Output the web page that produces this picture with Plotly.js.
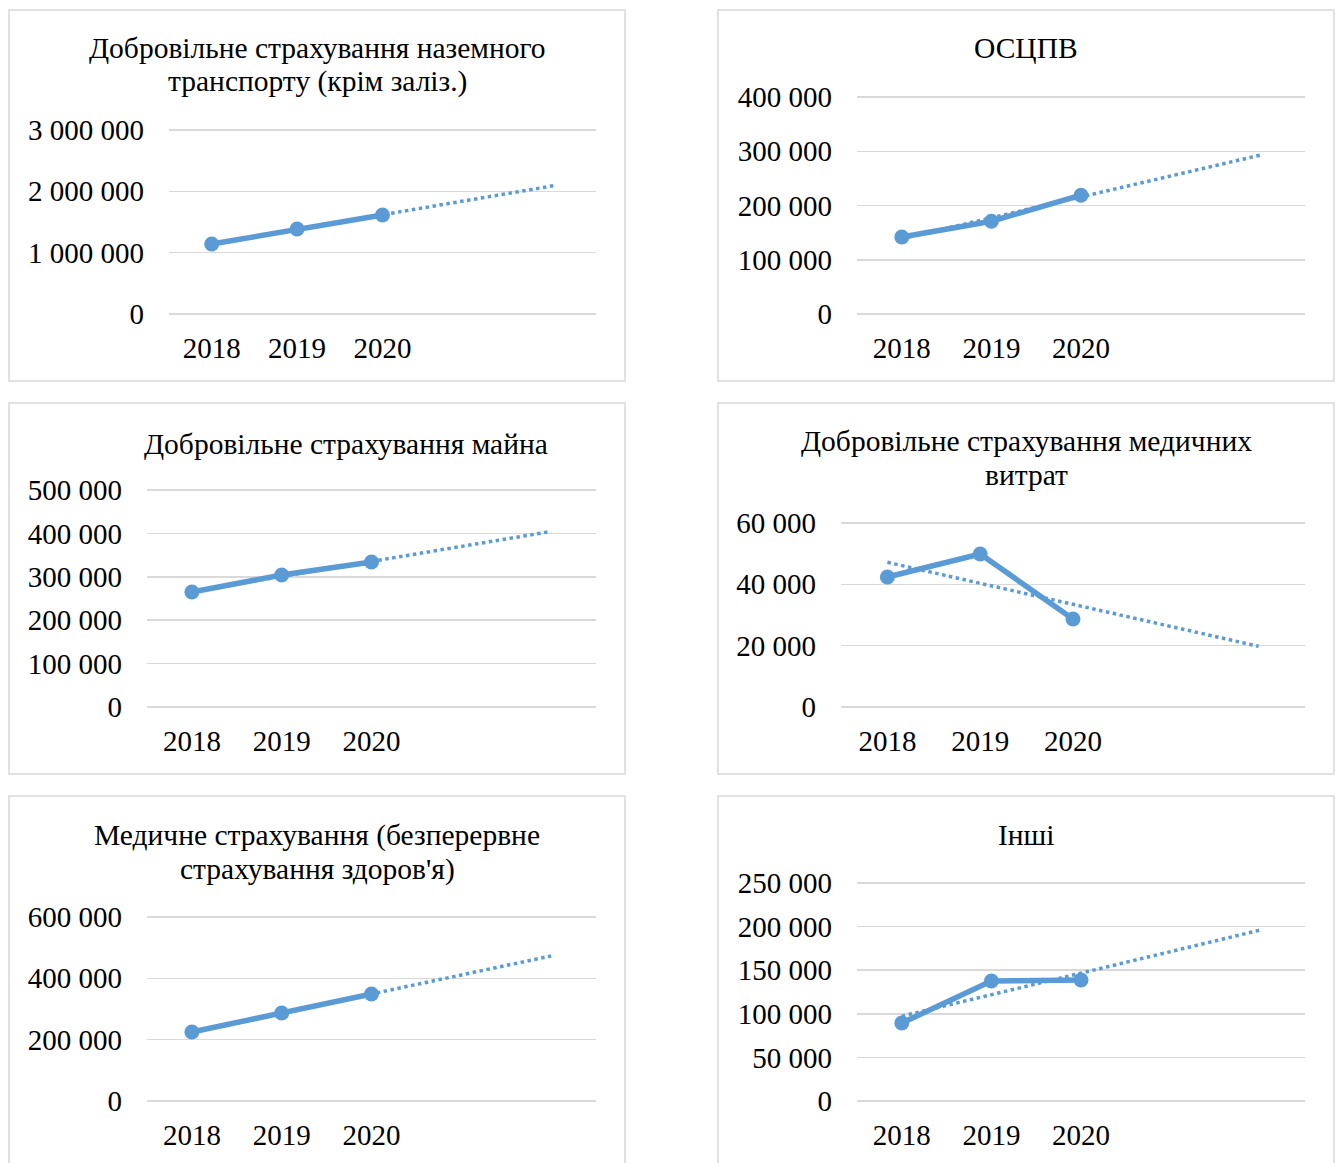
<!DOCTYPE html>
<html>
<head>
<meta charset="utf-8">
<script src="https://cdn.plot.ly/plotly-3.0.1.min.js"></script>
<style>
html,body{margin:0;padding:0;background:#fff;}
#chart{width:1341px;height:1163px;}
</style>
</head>
<body>
<div id="chart"></div>
<script>
// ---- data ----
const years = ['2018', '2019', '2020'];
const transport = [1142000, 1387000, 1615000];
const osctpv = [142000, 171000, 219000];
const property = [265000, 304000, 334000];
const medExpenses = [42400, 49900, 28700];
const medInsurance = [225000, 287000, 349000];
const others = [89400, 137600, 138800];

const titles = [
  ['Добровільне страхування наземного', 'транспорту (крім заліз.)'],
  ['ОСЦПВ'],
  ['Добровільне страхування майна'],
  ['Добровільне страхування медичних', 'витрат'],
  ['Медичне страхування (безперервне', 'страхування здоров\'я)'],
  ['Інші']
];
const yMax = [3000000, 400000, 500000, 60000, 600000, 250000];
const yStep = [1000000, 100000, 100000, 20000, 200000, 50000];
const seriesList = [transport, osctpv, property, medExpenses, medInsurance, others];
const forwardPeriods = 2;

// ---- layout geometry (pixels in the 1341x1163 page) ----
const W = 1341, H = 1163;
const panels = [
  {box: [9, 10, 625, 381],   plot: [169, 130, 596, 314], title: 48, tx: 317},
  {box: [718, 10, 1334, 381], plot: [857, 97, 1305, 314], title: 48, tx: 1026},
  {box: [9, 403, 625, 774],  plot: [147, 490, 596, 707], title: 444, tx: 346},
  {box: [718, 403, 1334, 774], plot: [841, 523, 1305, 707], title: 441, tx: 1026},
  {box: [9, 796, 625, 1175], plot: [147, 917, 596, 1101], title: 835, tx: 317},
  {box: [718, 796, 1334, 1175], plot: [857, 883, 1305, 1101], title: 835, tx: 1026}
];
const titleLineGap = 34;
const topPad = 4; // extra pixels above the top gridline so it is drawn
const px = x => x / W;
const py = y => 1 - y / H;

const color = '#5b9bd5';
const font = 'Liberation Serif';
const traces = [];
const layout = {
  width: W, height: H,
  margin: {l: 0, r: 0, t: 0, b: 0},
  paper_bgcolor: '#fff', plot_bgcolor: '#fff',
  showlegend: false,
  separators: ', ',
  font: {family: font, size: 29, color: '#000'},
  shapes: [], annotations: []
};

function linearTrend(vals) {
  const n = vals.length;
  const xs = vals.map((_, i) => i + 1);
  const mx = xs.reduce((a, b) => a + b, 0) / n;
  const my = vals.reduce((a, b) => a + b, 0) / n;
  let num = 0, den = 0;
  for (let i = 0; i < n; i++) { num += (xs[i] - mx) * (vals[i] - my); den += (xs[i] - mx) ** 2; }
  const slope = num / den;
  const x0 = 1, x1 = n + forwardPeriods;
  return {x: [x0, x1], y: [my + slope * (x0 - mx), my + slope * (x1 - mx)]};
}

panels.forEach((p, i) => {
  const k = i === 0 ? '' : String(i + 1);
  const vals = seriesList[i];
  const xs = vals.map((_, j) => j + 1);
  const tr = linearTrend(vals);
  traces.push({
    x: tr.x, y: tr.y, xaxis: 'x' + k, yaxis: 'y' + k,
    mode: 'lines', line: {color: color, width: 3.5, dash: 'dot'}, hoverinfo: 'skip'
  });
  traces.push({
    x: xs, y: vals, xaxis: 'x' + k, yaxis: 'y' + k,
    mode: 'lines+markers', line: {color: color, width: 5.5},
    marker: {color: color, size: 15}
  });
  const [l, t, r, b] = p.plot;
  const h = b - t;
  layout['xaxis' + k] = {
    domain: [px(l), px(r)], anchor: 'y' + k,
    range: [0.5, vals.length + forwardPeriods + 0.5],
    tickvals: xs, ticktext: years,
    showgrid: false, zeroline: false, showline: false, ticks: '',
    tickfont: {family: font, size: 29, color: '#000'},
    ticklabelstandoff: 14, fixedrange: true
  };
  const ytv = [];
  for (let v = 0; v <= yMax[i] + 1e-9; v += yStep[i]) ytv.push(v);
  layout['yaxis' + k] = {
    domain: [py(b), py(t - topPad)], anchor: 'x' + k,
    range: [0, yMax[i] * (h + topPad) / h],
    tickvals: ytv, tickformat: ',d',
    showgrid: true, gridcolor: '#d9d9d9', gridwidth: 1.5,
    zeroline: true, zerolinecolor: '#d9d9d9', zerolinewidth: 1.5,
    showline: false, ticks: '',
    tickfont: {family: font, size: 29, color: '#000'},
    ticklabelstandoff: 24, fixedrange: true
  };
  const [bl, bt, br, bb] = p.box;
  layout.shapes.push({
    type: 'rect', xref: 'paper', yref: 'paper',
    x0: px(bl), x1: px(br), y0: py(bb), y1: py(bt),
    line: {color: '#d9d9d9', width: 1.5}, fillcolor: 'rgba(0,0,0,0)', layer: 'below'
  });
  titles[i].forEach((line, j) => {
    layout.annotations.push({
      xref: 'paper', yref: 'paper', x: px(p.tx), y: py(p.title + j * titleLineGap),
      xanchor: 'center', yanchor: 'middle', showarrow: false,
      text: line, align: 'center',
      font: {family: font, size: 29.5, color: '#000'}
    });
  });
});

Plotly.newPlot('chart', traces, layout, {staticPlot: true, displayModeBar: false});
</script>
</body>
</html>
